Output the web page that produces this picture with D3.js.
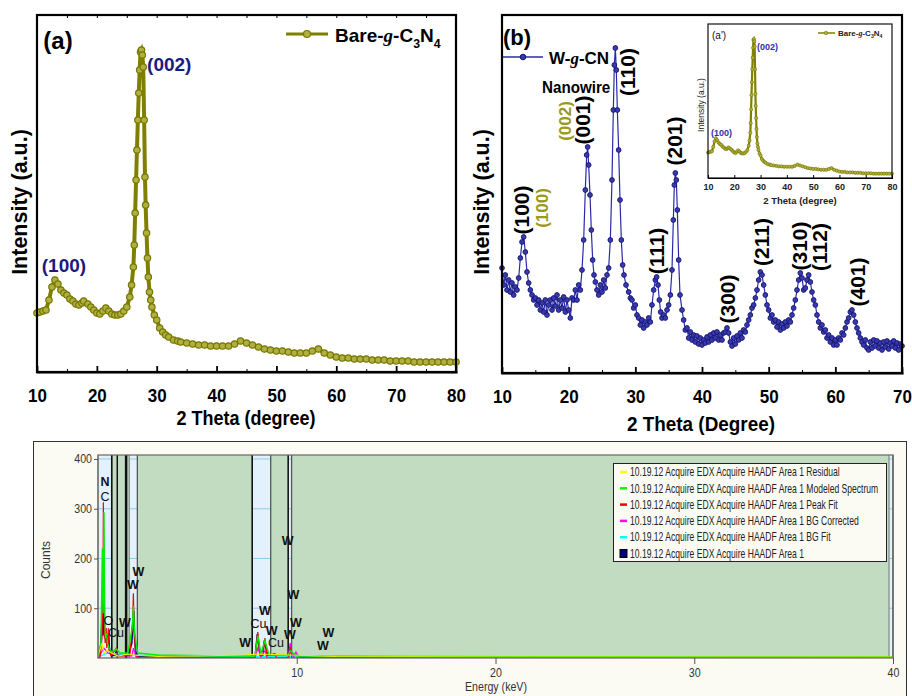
<!DOCTYPE html>
<html lang="en">
<head>
<meta charset="utf-8">
<title>XRD and EDX</title>
<script src="https://cdn.jsdelivr.net/npm/d3@7"></script>
<style>
  body { margin: 0; background: #fff; }
  svg { display: block; }
  text { font-family: Arial, "Liberation Sans", sans-serif; }
</style>
</head>
<body>
<svg id="fig" width="912" height="696"></svg>
<script>
// ---------- data ----------
// bare g-C3N4 XRD, [2theta, intensity a.u.]
const bareXRD = [[10,59],[10.5,60],[11,61],[11.5,62],[12,72],[12.5,85],[13,92],[13.5,88],[14,82],[14.5,79],[15,77],[15.5,73],[16,71],[16.5,68],[17,67],[17.5,69],[17.8,71],[18.5,68],[19,65],[19.5,62],[20,59],[20.5,58],[21,61],[21.5,64],[22,61],[22.5,58],[23,57],[23.5,57],[24,58],[24.5,61],[25,65],[25.5,75],[25.8,87],[26.1,105],[26.25,127],[26.4,159],[26.55,192],[26.7,222],[26.85,252],[27,279],[27.15,302],[27.3,320],[27.45,322],[27.6,317],[27.75,305],[27.9,252],[28.04,195],[28.15,167],[28.3,139],[28.45,114],[28.6,95],[28.8,80],[29,72],[29.2,65],[29.6,57],[30,52],[30.5,44],[31,40],[31.5,37],[32,35],[32.8,32],[33.5,31],[34,30],[35,29],[36,28],[37,27],[38,27],[39,26],[40,26],[41,26],[42,26],[43,28],[44,31],[45,29],[46,27],[47,25],[48,23],[49,22],[50,21],[51,21],[52,20],[53,19],[54,19],[55,19],[56,21],[57,23],[58,19],[59,17],[60,15],[61,14],[62,14],[63,13],[64,13],[65,13],[66,12],[67,12],[68,12],[69,11],[70,11],[71,11],[72,11],[73,10],[74,10],[75,10],[76,10],[77,10],[78,10],[79,10],[80,10]];

// W-g-CN nanowire XRD, [2theta, intensity a.u.]
const wcnXRD = [[10,105],[10.25,88],[10.5,98],[10.75,83],[11,93],[11.25,81],[11.5,90],[11.75,78],[12,86],[12.25,83],[12.5,95],[12.75,115],[13,131],[13.25,136],[13.5,121],[13.75,101],[14,90],[14.25,83],[14.5,78],[14.75,73],[15,75],[15.25,68],[15.5,73],[15.75,63],[16,70],[16.25,61],[16.5,73],[16.75,58],[17,68],[17.25,73],[17.5,63],[17.75,75],[18,67],[18.25,78],[18.5,63],[18.75,73],[19,65],[19.25,76],[19.5,61],[19.75,73],[20,63],[20.25,55],[20.5,75],[20.75,73],[21,83],[21.25,73],[21.5,88],[21.75,83],[22,103],[22.25,133],[22.5,183],[22.7,218],[22.85,226],[23,208],[23.2,178],[23.4,143],[23.6,113],[23.8,98],[24,91],[24.25,83],[24.5,78],[24.75,88],[25,81],[25.25,93],[25.5,85],[25.75,98],[26,105],[26.25,133],[26.5,193],[26.7,263],[26.85,308],[27,325],[27.15,303],[27.3,263],[27.5,223],[27.7,173],[27.9,133],[28.1,108],[28.3,98],[28.6,88],[29,81],[29.25,75],[29.5,73],[29.75,65],[30,68],[30.25,58],[30.5,55],[30.75,48],[31,53],[31.25,45],[31.5,51],[31.75,48],[32,55],[32.25,51],[32.5,68],[32.75,83],[33,93],[33.2,96],[33.4,88],[33.6,73],[33.8,61],[34,55],[34.25,58],[34.5,55],[34.75,63],[35,68],[35.25,78],[35.5,103],[35.7,153],[35.85,188],[36,200],[36.15,193],[36.3,163],[36.5,113],[36.7,78],[37,63],[37.25,53],[37.5,43],[37.75,45],[38,35],[38.25,41],[38.5,33],[38.75,38],[39,31],[39.25,37],[39.5,29],[39.75,35],[40,28],[40.25,33],[40.5,30],[40.75,36],[41,31],[41.25,38],[41.5,33],[41.75,40],[42,35],[42.25,41],[42.5,33],[42.75,38],[43,33],[43.25,40],[43.5,41],[43.75,45],[44,40],[44.25,31],[44.5,27],[44.75,35],[45,29],[45.25,37],[45.5,33],[45.75,40],[46,35],[46.25,43],[46.5,41],[46.75,48],[47,53],[47.25,58],[47.5,65],[47.75,68],[48,75],[48.25,83],[48.5,93],[48.75,101],[49,98],[49.25,88],[49.5,78],[49.75,68],[50,63],[50.25,55],[50.5,58],[50.75,51],[51,53],[51.25,46],[51.5,51],[51.75,43],[52,49],[52.25,45],[52.5,51],[52.75,47],[53,53],[53.25,51],[53.5,58],[53.75,65],[54,73],[54.25,83],[54.5,93],[54.75,100],[55,95],[55.25,83],[55.5,85],[55.75,93],[56,98],[56.25,91],[56.5,81],[56.75,73],[57,68],[57.25,58],[57.5,51],[57.75,45],[58,48],[58.25,41],[58.5,43],[58.75,35],[59,38],[59.25,31],[59.5,35],[59.75,28],[60,33],[60.25,28],[60.5,35],[60.75,33],[61,40],[61.25,38],[61.5,45],[61.75,51],[62,55],[62.25,61],[62.5,63],[62.75,58],[63,51],[63.25,45],[63.5,40],[63.75,35],[64,31],[64.25,28],[64.5,33],[64.75,25],[65,23],[65.25,31],[65.5,25],[65.75,33],[66,27],[66.25,32],[66.5,25],[66.75,30],[67,23],[67.25,31],[67.5,26],[67.75,32],[68,24],[68.25,30],[68.5,27],[68.75,32],[69,25],[69.25,30],[69.5,23],[69.75,29],[70,27]];

const xrdTicks = [10, 20, 30, 40, 50, 60, 70, 80];
const xrdTicksB = [10, 20, 30, 40, 50, 60, 70];

// peak labels in panel (b): [text, 2theta, intensity at label centre, colour key]
const wcnPeaks = [["(100)",13.0,163,"k"],["(100)",16.0,165,"o"],["(002)",19.45,252,"o"],["(001)",22.15,253,"k"],["(110)",28.9,301,"k"],["(111)",33.25,122,"k"],["(201)",35.95,232,"k"],["(300)",43.9,74,"k"],["(211)",49.0,131,"k"],["(310)",54.7,127,"k"],["(112)",57.7,126,"k"],["(401)",63.4,91,"k"]];

// EDX traces, [energy keV, counts]
const edxArea1 = [[0.05,0],[0.15,30],[0.2,80],[0.24,45],[0.27,160],[0.3,70],[0.34,40],[0.38,60],[0.42,30],[0.46,45],[0.5,25],[0.53,50],[0.57,20],[0.62,12],[0.7,5],[0.85,6],[0.93,14],[1.0,5],[1.2,6],[1.4,5],[1.55,8],[1.7,30],[1.76,75],[1.8,95],[1.84,40],[1.9,12],[2.0,4],[2.5,3],[5,2],[7.4,4],[7.6,2],[7.9,2],[7.95,20],[8.02,48],[8.08,30],[8.15,10],[8.3,15],[8.38,36],[8.45,20],[8.55,5],[8.9,8],[9.0,3],[9.5,2],[9.6,10],[9.68,22],[9.75,6],[9.95,6],[10.2,2],[11.3,3],[12,1],[40,1]];
const edxBgFit = [[0,2],[0.5,10],[1,8],[2,6],[5,4],[10,3],[20,2],[40,1]];
const edxBgCorrected = [[0,0],[0.3,20],[0.5,10],[1.0,5],[1.7,4],[1.78,20],[1.9,3],[2,0],[7.9,0],[8.04,20],[8.2,2],[8.4,15],[8.5,0],[9.55,0],[9.6,10],[9.67,30],[9.75,8],[9.85,2],[9.96,12],[10.1,3],[11.2,0],[11.3,4],[11.4,0],[40,0]];
const edxPeakFit = [[0.1,0],[0.2,40],[0.25,120],[0.27,313],[0.29,160],[0.32,60],[0.36,30],[0.4,60],[0.44,20],[0.5,40],[0.52,60],[0.56,15],[0.65,5],[0.93,20],[1.0,4],[1.6,5],[1.74,70],[1.78,130],[1.82,60],[1.9,5],[2.1,0],[7.9,0],[8.04,52],[8.15,5],[8.3,5],[8.4,40],[8.5,5],[8.9,6],[9.0,0],[9.6,0],[9.67,22],[9.75,0],[40,0]];
const edxModeled = [[0,8],[0.15,30],[0.22,220],[0.26,90],[0.3,293],[0.33,120],[0.37,40],[0.42,50],[0.48,30],[0.55,20],[0.7,12],[0.93,18],[1.1,10],[1.5,10],[1.72,60],[1.78,105],[1.84,50],[2.0,10],[3,6],[6,4],[7.9,4],[8.04,45],[8.2,8],[8.4,35],[8.6,6],[9.55,5],[9.67,15],[10,4],[15,3],[40,2]];
const edxResidual = [[0,3],[0.2,30],[0.3,10],[0.45,15],[1,4],[1.5,8],[2,5],[3,3],[5,4],[7.4,6],[8,8],[9.7,6],[12,3],[20,2],[30,2],[40,2]];

const edxTicksX = [10, 20, 30, 40];
const edxTicksY = [100, 200, 300, 400];
// shaded regions and marker lines (keV)
const edxBands = [[0,0.69],[1.57,1.98],[7.76,8.69],[9.57,9.74],[39.8,40]];
const edxLines = [0.69, 0.97, 1.39, 1.44, 7.76, 9.57];
// element labels: [text, keV, counts, bold]
const edxLabels = [["N",0.35,354,1],["C",0.35,324,0],["O",0.52,76,0],["Cu",0.91,50,0],["W",1.36,72,1],["W",1.75,147,1],["W",2.03,173,1],["W",7.4,30,1],["Cu",8.07,70,0],["W",8.4,96,1],["W",8.74,56,1],["Cu",8.96,30,0],["W",9.54,236,1],["W",9.83,127,1],["W",9.96,72,1],["W",9.66,46,1],["W",11.59,51,1],["W",11.31,24,1]];
const edxLegend = ["Residual","Modeled Spectrum","Peak Fit","BG Corrected","BG Fit",""];
const edxColors = ["#ffff00","#00ff00","#ff0000","#ff00ff","#00ffff","#000080"];

const olive = "#808000";

const svg = d3.select("#fig");

// horizontally narrow a text (the figure is slightly squashed sideways)
function squeeze(sel, f) {
  sel.each(function() {
    const t = d3.select(this);
    const x = +t.attr("x") || 0, y = +t.attr("y") || 0;
    t.attr("x", 0).attr("y", 0).attr("transform", `translate(${x},${y}) scale(${f},1)`);
  });
}

// ---------- panel (a) ----------
const xa = d3.scaleLinear().domain([10, 80]).range([37, 456]);
const ya = d3.scaleLinear().domain([0, 357]).range([372, 15]);
const pa = svg.append("g");

pa.append("path").datum(bareXRD)
  .attr("fill", "none").attr("stroke", olive).attr("stroke-width", 4)
  .attr("d", d3.line().x(d => xa(d[0])).y(d => ya(d[1])));
pa.selectAll("circle.bare").data(bareXRD).join("circle")
  .attr("class", "bare").attr("r", 3.2)
  .attr("cx", d => xa(d[0])).attr("cy", d => ya(d[1]))
  .attr("fill", "#b0b040").attr("stroke", "#767600").attr("stroke-width", 1.2);

pa.append("rect").attr("x", 37).attr("y", 15).attr("width", 419).attr("height", 357)
  .attr("fill", "none").attr("stroke", "#000").attr("stroke-width", 2.2);

const axA = pa.append("g").attr("transform", "translate(0,372)")
  .call(d3.axisBottom(xa).tickValues(xrdTicks).tickSizeInner(-6).tickSizeOuter(0).tickPadding(17));
pa.append("g").attr("transform", "translate(0,372)")
  .call(d3.axisBottom(xa).tickValues(d3.range(15, 80, 10)).tickSize(-3).tickFormat(""));
pa.append("g").attr("transform", "translate(0,15)")
  .call(d3.axisTop(xa).tickValues(d3.range(15, 80, 5)).tickSize(-3).tickFormat(""));

pa.append("text").attr("x", 246).attr("y", 425).attr("text-anchor", "middle")
  .attr("font-size", 20).attr("font-weight", "bold").text("2 Theta (degree)").call(squeeze, 0.9);
pa.append("text").attr("transform", "translate(27,202) rotate(-90)").attr("text-anchor", "middle")
  .attr("font-size", 21.5).attr("font-weight", "bold").text("Intensity (a.u.)");
pa.append("text").attr("x", 58).attr("y", 49).attr("text-anchor", "middle")
  .attr("font-size", 24).attr("font-weight", "bold").text("(a)");
pa.append("text").attr("x", xa(32.1)).attr("y", ya(308)).attr("dy", "0.35em").attr("text-anchor", "middle")
  .attr("font-size", 19).attr("font-weight", "bold").attr("fill", "#1a1a80").text("(002)");
pa.append("text").attr("x", xa(14.5)).attr("y", ya(107)).attr("dy", "0.35em").attr("text-anchor", "middle")
  .attr("font-size", 19).attr("font-weight", "bold").attr("fill", "#1a1a80").text("(100)");

// legend (a)
pa.append("line").attr("x1", 286).attr("x2", 328).attr("y1", 34).attr("y2", 34)
  .attr("stroke", olive).attr("stroke-width", 3);
pa.append("circle").attr("cx", 307).attr("cy", 34).attr("r", 3.5)
  .attr("fill", "#b0b040").attr("stroke", "#767600").attr("stroke-width", 1.2);
function bareLabel(t, size) {
  t.append("tspan").text("Bare-");
  t.append("tspan").attr("font-family", "'Liberation Serif', serif").attr("font-style", "italic").text("g");
  t.append("tspan").text("-C");
  t.append("tspan").attr("font-size", size * 0.65).attr("dy", size * 0.3).text("3");
  t.append("tspan").attr("dy", -size * 0.3).text("N");
  t.append("tspan").attr("font-size", size * 0.65).attr("dy", size * 0.3).text("4");
}
const legA = pa.append("text").attr("x", 335).attr("y", 42).attr("font-size", 19).attr("font-weight", "bold");
bareLabel(legA, 19);

// ---------- panel (b) ----------
const xb = d3.scaleLinear().domain([10, 70]).range([502, 902]);
const yb = d3.scaleLinear().domain([0, 358]).range([373, 15]);
const pb = svg.append("g");

pb.append("path").datum(wcnXRD)
  .attr("fill", "none").attr("stroke", "#2a2aa6").attr("stroke-width", 1.2)
  .attr("d", d3.line().x(d => xb(d[0])).y(d => yb(d[1])));
pb.selectAll("circle.wcn").data(wcnXRD).join("circle")
  .attr("class", "wcn").attr("r", 2.4)
  .attr("cx", d => xb(d[0])).attr("cy", d => yb(d[1]))
  .attr("fill", "#3a3ab0").attr("stroke", "#14146e").attr("stroke-width", 0.9);

pb.append("rect").attr("x", 502).attr("y", 15).attr("width", 400).attr("height", 358)
  .attr("fill", "none").attr("stroke", "#000").attr("stroke-width", 2.2);
const axB = pb.append("g").attr("transform", "translate(0,373)")
  .call(d3.axisBottom(xb).tickValues(xrdTicksB).tickSizeInner(-6).tickSizeOuter(0).tickPadding(17));
pb.append("g").attr("transform", "translate(0,373)")
  .call(d3.axisBottom(xb).tickValues(d3.range(15, 70, 10)).tickSize(-3).tickFormat(""));

pb.append("text").attr("x", 701).attr("y", 431).attr("text-anchor", "middle")
  .attr("font-size", 21).attr("font-weight", "bold").text("2 Theta (Degree)").call(squeeze, 0.9);
pb.append("text").attr("transform", "translate(489,202) rotate(-90)").attr("text-anchor", "middle")
  .attr("font-size", 21.5).attr("font-weight", "bold").text("Intensity (a.u.)");
pb.append("text").attr("x", 517).attr("y", 45).attr("text-anchor", "middle")
  .attr("font-size", 22).attr("font-weight", "bold").text("(b)");

pb.selectAll("text.peak").data(wcnPeaks).join("text")
  .attr("class", "peak")
  .attr("transform", d => `translate(${xb(d[1])},${yb(d[2])}) rotate(-90)`)
  .attr("text-anchor", "middle").attr("dy", "0.35em")
  .attr("font-weight", "bold")
  .attr("font-size", d => d[3] === "o" ? 17 : 21)
  .attr("fill", d => d[3] === "o" ? "#9a9a18" : "#000")
  .text(d => d[0]);

// legend (b)
pb.append("line").attr("x1", 503).attr("x2", 543).attr("y1", 57).attr("y2", 57)
  .attr("stroke", "#2a2aa6").attr("stroke-width", 1.5);
pb.append("circle").attr("cx", 523).attr("cy", 57).attr("r", 2.8)
  .attr("fill", "#3a3ab0").attr("stroke", "#14146e");
const legB = pb.append("text").attr("x", 549).attr("y", 64).attr("font-size", 17).attr("font-weight", "bold");
legB.append("tspan").text("W-");
legB.append("tspan").attr("font-family", "'Liberation Serif', serif").attr("font-style", "italic").text("g");
legB.append("tspan").text("-CN");
pb.append("text").attr("x", 542).attr("y", 93).attr("font-size", 16.5).attr("font-weight", "bold").text("Nanowire").call(squeeze, 0.92);

// ---------- inset (a') ----------
const xi = d3.scaleLinear().domain([10, 80]).range([708, 892]);
const yi = d3.scaleLinear().domain([0, 357]).range([178, 24]);
const pi = svg.append("g");
pi.append("rect").attr("x", 708).attr("y", 24).attr("width", 184).attr("height", 154).attr("fill", "#fff");
pi.append("path").datum(bareXRD)
  .attr("fill", "none").attr("stroke", olive).attr("stroke-width", 2.2)
  .attr("d", d3.line().x(d => xi(d[0])).y(d => yi(d[1])));
pi.selectAll("circle.ins").data(bareXRD).join("circle")
  .attr("class", "ins").attr("r", 1.6)
  .attr("cx", d => xi(d[0])).attr("cy", d => yi(d[1]))
  .attr("fill", "#b0b040").attr("stroke", "#767600").attr("stroke-width", 0.6);
pi.append("rect").attr("x", 708).attr("y", 24).attr("width", 184).attr("height", 154)
  .attr("fill", "none").attr("stroke", "#111").attr("stroke-width", 1.2);
const axI = pi.append("g").attr("transform", "translate(0,178)")
  .call(d3.axisBottom(xi).tickValues(xrdTicks).tickSizeInner(-3).tickSizeOuter(0).tickPadding(6));
pi.append("text").attr("x", 800).attr("y", 204).attr("text-anchor", "middle")
  .attr("font-size", 9.5).attr("font-weight", "bold").attr("fill", "#222").text("2 Theta (degree)");
pi.append("text").attr("transform", "translate(704,105) rotate(-90)").attr("text-anchor", "middle")
  .attr("font-size", 8.5).attr("fill", "#222").text("Intensity (a.u.)");
pi.append("text").attr("x", 712).attr("y", 39).attr("font-size", 10).attr("fill", "#111").text("(a')");
pi.append("text").attr("x", 757).attr("y", 50).attr("font-size", 9).attr("font-weight", "bold").attr("fill", "#3030a8").text("(002)");
pi.append("text").attr("x", 711).attr("y", 136).attr("font-size", 9).attr("font-weight", "bold").attr("fill", "#3030a8").text("(100)");
pi.append("line").attr("x1", 818).attr("x2", 835).attr("y1", 33).attr("y2", 33).attr("stroke", olive).attr("stroke-width", 1.5);
pi.append("circle").attr("cx", 826).attr("cy", 33).attr("r", 1.8).attr("fill", "#b0b040").attr("stroke", "#767600").attr("stroke-width", 0.6);
const legI = pi.append("text").attr("x", 838).attr("y", 36).attr("font-size", 8).attr("font-weight", "bold").attr("fill", "#222");
bareLabel(legI, 8);

[axA, axB].forEach(ax => {
  ax.select(".domain").attr("stroke-width", 2.2);
  ax.selectAll(".tick line").attr("stroke-width", 1.8);
  ax.selectAll(".tick text").attr("font-size", 18.5).attr("font-weight", "bold").attr("fill", "#000")
    .attr("font-family", "Arial, 'Liberation Sans', sans-serif").call(squeeze, 0.92);
});
axI.selectAll(".tick text").attr("font-size", 9).attr("font-weight", "bold").attr("fill", "#222")
  .attr("font-family", "Arial, 'Liberation Sans', sans-serif");
svg.selectAll(".domain").attr("stroke-linecap", "square");

// ---------- EDX panel ----------
const xe = d3.scaleLinear().domain([0, 40]).range([98, 893]);
const ye = d3.scaleLinear().domain([0, 408]).range([658, 455]);
const pe = svg.append("g");

pe.append("rect").attr("x", 33.5).attr("y", 441.5).attr("width", 873).attr("height", 270)
  .attr("fill", "#fbfbf3").attr("stroke", "#333");
pe.append("rect").attr("x", 98).attr("y", 455).attr("width", 795).attr("height", 203).attr("fill", "#c1dcc1");

const bands = pe.selectAll("g.band").data(edxBands).join("g").attr("class", "band");
bands.append("rect")
  .attr("x", d => xe(d[0])).attr("y", 455)
  .attr("width", d => xe(d[1]) - xe(d[0])).attr("height", 203)
  .attr("fill", "#e2f1fb");
bands.selectAll("line.grid").data(d => edxTicksY.map(v => [d, v])).join("line")
  .attr("class", "grid")
  .attr("x1", d => xe(d[0][0])).attr("x2", d => xe(d[0][1]))
  .attr("y1", d => ye(d[1])).attr("y2", d => ye(d[1]))
  .attr("stroke", "#8ecbea").attr("stroke-width", 1);
bands.append("line").attr("x1", d => xe(d[1])).attr("x2", d => xe(d[1]))
  .attr("y1", 455).attr("y2", 658).attr("stroke", "#555").attr("stroke-width", 1.3);
bands.append("line").attr("x1", d => xe(d[0])).attr("x2", d => xe(d[0]))
  .attr("y1", 455).attr("y2", 658).attr("stroke", "#777").attr("stroke-width", 1);
pe.selectAll("line.roi").data(edxLines).join("line")
  .attr("class", "roi")
  .attr("x1", d => xe(d)).attr("x2", d => xe(d)).attr("y1", 455).attr("y2", 658)
  .attr("stroke", "#111").attr("stroke-width", 1.5);

pe.append("clipPath").attr("id", "edxclip").append("rect")
  .attr("x", 98).attr("y", 455).attr("width", 795).attr("height", 203);
const traces = [
  [edxArea1, "#000080", 1.6],
  [edxBgFit, "#00ffff", 1.2],
  [edxBgCorrected, "#ff00ff", 1.2],
  [edxPeakFit, "#ff0000", 1.2],
  [edxModeled, "#00ee00", 1.4],
  [edxResidual, "#eeee00", 1.2]
];
const eline = d3.line().x(d => xe(d[0])).y(d => ye(d[1]));
pe.append("g").attr("clip-path", "url(#edxclip)")
  .selectAll("path").data(traces).join("path")
  .attr("fill", "none").attr("stroke", d => d[1]).attr("stroke-width", d => d[2])
  .attr("d", d => eline(d[0]));

pe.append("rect").attr("x", 98).attr("y", 455).attr("width", 795).attr("height", 203)
  .attr("fill", "none").attr("stroke", "#666").attr("stroke-width", 1.2);

pe.selectAll("text.el").data(edxLabels).join("text")
  .attr("class", "el")
  .attr("x", d => xe(d[1])).attr("y", d => ye(d[2])).attr("dy", "0.35em")
  .attr("text-anchor", "middle").attr("font-size", 12.5)
  .attr("font-weight", d => d[3] ? "bold" : "normal")
  .attr("fill", "#111").text(d => d[0]);

const axEx = pe.append("g").attr("transform", "translate(0,658)")
  .call(d3.axisBottom(xe).tickValues(edxTicksX).tickSize(6).tickPadding(4));
const axEy = pe.append("g").attr("transform", "translate(98,0)")
  .call(d3.axisLeft(ye).tickValues(edxTicksY).tickSize(4).tickPadding(2));
[axEx, axEy].forEach(ax => {
  ax.select(".domain").remove();
  ax.selectAll(".tick line").attr("stroke", "#555");
  ax.selectAll(".tick text").attr("font-size", 12.5).attr("fill", "#333")
    .attr("font-family", "Arial, 'Liberation Sans', sans-serif");
});
axEx.selectAll(".tick text").call(squeeze, 0.85);
axEy.selectAll(".tick text").each(function() {
  // right-aligned labels: narrow them around their right edge
  const t = d3.select(this);
  const x = +t.attr("x") || 0;
  t.attr("x", 0).attr("transform", `translate(${x},0) scale(0.85,1)`);
});
pe.append("text").attr("x", 496).attr("y", 691).attr("text-anchor", "middle")
  .attr("font-size", 12.5).attr("fill", "#333").text("Energy (keV)").call(squeeze, 0.85);
pe.append("text").attr("transform", "translate(50,560) rotate(-90)").attr("text-anchor", "middle")
  .attr("font-size", 12).attr("fill", "#333").text("Counts");

// legend box
const lg = pe.append("g");
lg.append("rect").attr("x", 613.5).attr("y", 463.5).attr("width", 273).attr("height", 98)
  .attr("fill", "#fbfbf3").attr("stroke", "#222");
const rows = lg.selectAll("g.row").data(edxLegend).join("g").attr("class", "row")
  .attr("transform", (d, i) => `translate(0,${472 + i * 16.3})`);
rows.filter((d, i) => i < 5).append("line")
  .attr("x1", 620).attr("x2", 627).attr("y1", 0).attr("y2", 0)
  .attr("stroke", (d, i) => edxColors[i]).attr("stroke-width", 2.5);
rows.filter((d, i) => i === 5).append("rect")
  .attr("x", 620).attr("y", -4).attr("width", 7).attr("height", 8)
  .attr("fill", "#000080").attr("stroke", "#000");
rows.append("text").attr("x", 630).attr("y", 0).attr("dy", "0.35em")
  .attr("font-size", 12).attr("fill", "#222")
  .text(d => ("10.19.12 Acquire EDX Acquire HAADF Area 1 " + d).trim())
  .call(squeeze, 0.715);
</script>
</body>
</html>
